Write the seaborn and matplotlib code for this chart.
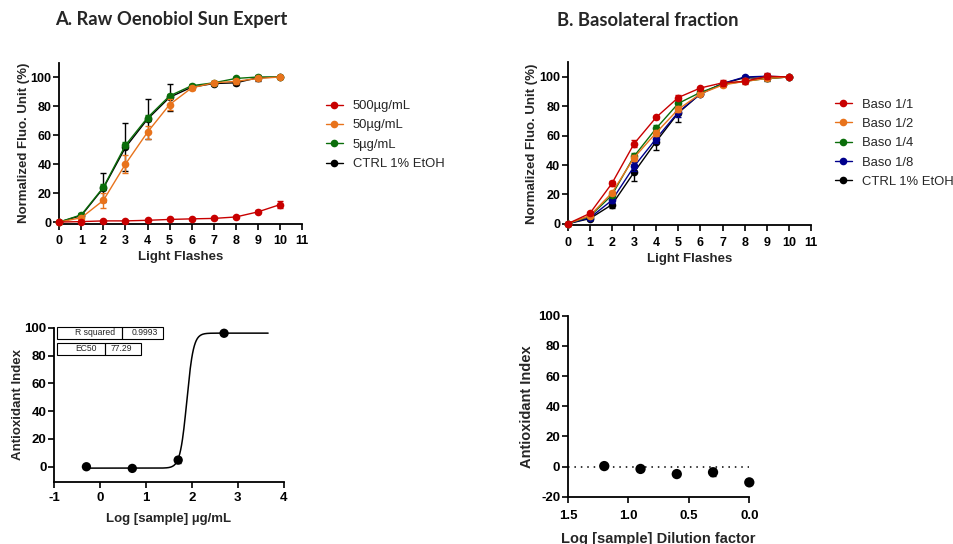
import numpy as np
import pandas as pd
import matplotlib
matplotlib.use("Agg")
import matplotlib.pyplot as plt
from matplotlib.patches import Rectangle
import seaborn as sns

# ---------------- data ----------------
flashes = list(range(11))

# Panel A (raw extract)
a_labels = ["500µg/mL", "50µg/mL", "5µg/mL", "CTRL 1% EtOH"]
a_500 = [0, 0.3, 0.8, 0.8, 1.2, 1.8, 2.2, 2.5, 3.5, 7, 12]
a_500_err = [0, 0.3, 0.3, 0.3, 0.3, 0.4, 0.5, 0.5, 0.8, 1, 2.5]
a_50 = [0, 3, 15, 40, 62, 81, 92.5, 96, 97, 99, 100]
a_50_err = [0, 1, 5, 6, 4.5, 4, 1.5, 1, 1.5, 1, 0]
a_5 = [0, 5, 24, 53, 72, 87, 94, 96, 99, 100, 100]
a_5_err = [0, 1, 2, 2, 2, 1.5, 1, 1, 1, 1, 0]
a_ctrl = [0, 4.5, 23.5, 51.5, 71, 86, 93, 95.5, 96, 99.5, 100]
a_ctrl_err = [0, 1, 10, 16.5, 14, 9.5, 1.5, 1, 1.5, 2, 0]

# Panel B (basolateral fraction)
b_labels = ["Baso 1/1", "Baso 1/2", "Baso 1/4", "Baso 1/8", "CTRL 1% EtOH"]
b_11 = [0, 7, 27.5, 54.5, 72.5, 86, 92.5, 96, 97, 100.5, 100]
b_11_err = [0, 1, 1.5, 2.5, 1, 1.5, 1, 2, 2, 2, 0]
b_12 = [0, 5.5, 21, 45, 62, 78, 88.5, 94.5, 97, 99, 100]
b_12_err = [0, 1, 1.5, 2, 2, 2, 1, 1, 1, 1, 0]
b_14 = [0, 5, 19.5, 46, 65, 82, 89.5, 95, 97, 99, 100]
b_14_err = [0, 1, 1.5, 2, 2, 2, 1, 1, 1, 1, 0]
b_18 = [0, 4, 16, 39, 58, 76, 88.5, 95.5, 100, 100.5, 100]
b_18_err = [0, 1, 2, 3, 3, 3, 1, 1, 1, 1.5, 0]
b_ctrl = [0, 3.5, 13, 35, 56, 75.5, 88.5, 95.5, 99.5, 99, 100]
b_ctrl_err = [0, 1, 2.5, 6, 6, 6.5, 1, 1, 1, 2, 0]

# Antioxidant index, raw extract
ai_a_logx = [-0.3, 0.7, 1.7, 2.7]
ai_a_y = [0, -1.2, 4.8, 96.2]
ai_a_err = [0, 0, 2, 0]
fit_bottom, fit_top, fit_ec50, fit_hill = -1.0, 96.3, 77.29, 6.0
fit_range = (-0.3, 3.66)
r_squared = "0.9993"
ec50_text = "77.29"

# Antioxidant index, basolateral
ai_b_logx = [1.2, 0.9, 0.6, 0.3, 0.0]
ai_b_y = [0.3, -1.6, -5.0, -3.8, -10.5]
ai_b_err = [0, 0, 0, 2.5, 0]

RED, ORANGE, GREEN, BLUE, BLACK = "#C80000", "#E8731C", "#0B6E0B", "#00008C", "#000000"

# ---------------- figure ----------------
sns.set_theme(style="ticks")
plt.rcParams["font.family"] = ["Liberation Sans", "DejaVu Sans"]
plt.rcParams["axes.unicode_minus"] = False
W, H = 954, 544
fig = plt.figure(figsize=(W / 100, H / 100), dpi=100)


def px_axes(x0, x1, ytop, ybot):
    return fig.add_axes([x0 / W, 1 - ybot / H, (x1 - x0) / W, (ybot - ytop) / H])


def style(ax, tick_fs, label_fs, xpad=4, ypad=1):
    sns.despine(ax=ax)
    for s in ("left", "bottom"):
        ax.spines[s].set_linewidth(1.3)
        ax.spines[s].set_color("black")
    ax.tick_params(direction="out", length=4.5, width=1.2, colors="black",
                   labelsize=tick_fs)
    ax.tick_params(axis="x", pad=xpad)
    ax.tick_params(axis="y", pad=ypad)
    for t in ax.get_xticklabels() + ax.get_yticklabels():
        t.set_fontweight("bold")
    ax.xaxis.label.set_fontsize(label_fs)
    ax.yaxis.label.set_fontsize(label_fs)
    ax.xaxis.label.set_fontweight("bold")
    ax.yaxis.label.set_fontweight("bold")
    ax.set_facecolor("none")


def kinetic(ax, series, order_labels):
    for i, (lab, vals, errs, col) in enumerate(reversed(series)):
        z = 3 + i
        ax.errorbar(flashes, vals, yerr=errs, fmt="none", ecolor=col,
                    elinewidth=1, capsize=2.2, capthick=1, zorder=z, clip_on=False)
        df = pd.DataFrame({"x": flashes, "y": vals})
        sns.lineplot(data=df, x="x", y="y", ax=ax, color=col, marker="o",
                     markersize=5.5, markeredgewidth=0, linewidth=1,
                     label=lab, zorder=z + 0.5, clip_on=False)
    ax.set_xlim(0, 11)
    ax.set_ylim(-1, 110)
    ax.set_xticks(range(12))
    ax.set_yticks(range(0, 101, 20))
    ax.set_xlabel("Light Flashes", labelpad=3)
    ax.set_ylabel("Normalized Fluo. Unit (%)", labelpad=0.5)
    handles, labels = ax.get_legend_handles_labels()
    hmap = dict(zip(labels, handles))
    return [hmap[l] for l in order_labels]


# ---- Panel A top ----
axA = px_axes(59.3, 302, 62.5, 223.5)
hA = kinetic(axA, [(a_labels[0], a_500, a_500_err, RED),
                   (a_labels[1], a_50, a_50_err, ORANGE),
                   (a_labels[2], a_5, a_5_err, GREEN),
                   (a_labels[3], a_ctrl, a_ctrl_err, BLACK)], a_labels)
style(axA, 9, 9.5)
axA.legend(hA, a_labels, loc="upper left", bbox_to_anchor=(326 / W, 1 - 100 / H),
           bbox_transform=fig.transFigure, frameon=False, fontsize=9.4,
           handlelength=1.3, handletextpad=0.75, labelspacing=0.55,
           borderpad=0, borderaxespad=0)

# ---- Panel B top ----
axB = px_axes(567.7, 811, 62.3, 225.2)
hB = kinetic(axB, [(b_labels[0], b_11, b_11_err, RED),
                   (b_labels[1], b_12, b_12_err, ORANGE),
                   (b_labels[2], b_14, b_14_err, GREEN),
                   (b_labels[3], b_18, b_18_err, BLUE),
                   (b_labels[4], b_ctrl, b_ctrl_err, BLACK)], b_labels)
style(axB, 9, 9.5)
axB.legend(hB, b_labels, loc="upper left", bbox_to_anchor=(835 / W, 1 - 98.5 / H),
           bbox_transform=fig.transFigure, frameon=False, fontsize=9.4,
           handlelength=1.3, handletextpad=0.75, labelspacing=0.55,
           borderpad=0, borderaxespad=0)

# ---- Panel A bottom ----
axC = px_axes(54.3, 283.7, 328, 482)
xf = np.linspace(fit_range[0], fit_range[1], 400)
yf = fit_bottom + (fit_top - fit_bottom) / (1 + 10 ** ((np.log10(fit_ec50) - xf) * fit_hill))
sns.lineplot(x=xf, y=yf, ax=axC, color="black", linewidth=1.1, zorder=2)
axC.errorbar(ai_a_logx, ai_a_y, yerr=ai_a_err, fmt="none", ecolor="black",
             elinewidth=1, capsize=2.5, zorder=3)
sns.scatterplot(x=ai_a_logx, y=ai_a_y, ax=axC, color="black", s=45,
                edgecolor="none", zorder=4, clip_on=False)
axC.set_xlim(-1, 4)
axC.set_ylim(-11, 100)
axC.set_xticks(range(-1, 5))
axC.set_yticks(range(0, 101, 20))
axC.set_xlabel("Log [sample] µg/mL", labelpad=6)
axC.set_ylabel("Antioxidant Index", labelpad=0.5)
style(axC, 9.5, 9.5, xpad=3, ypad=1)

# results table
def cell_box(x0, x1, y0, y1):
    fig.patches.append(Rectangle((x0 / W, 1 - y1 / H), (x1 - x0) / W, (y1 - y0) / H,
                                 transform=fig.transFigure, fill=False,
                                 edgecolor="black", linewidth=0.8))

cell_box(56.7, 122.3, 327.3, 338.7)
cell_box(122.3, 163.3, 327.3, 338.7)
cell_box(56.7, 105, 343.3, 355)
cell_box(105, 140.7, 343.3, 355)
fig.text(95 / W, 1 - 332.5 / H, "R squared", fontsize=6.2, ha="center", va="center")
fig.text(144.5 / W, 1 - 332.5 / H, r_squared, fontsize=6.2, ha="center", va="center")
fig.text(86.5 / W, 1 - 348.5 / H, "EC50", fontsize=6.2, ha="center", va="center")
fig.text(121 / W, 1 - 348.5 / H, ec50_text, fontsize=6.2, ha="center", va="center")

# ---- Panel B bottom ----
axD = px_axes(568, 749.3, 315.7, 496.7)
axD.axhline(0, color="black", linewidth=1.1, linestyle=(0, (1, 3.2)), zorder=1)
axD.errorbar(ai_b_logx, ai_b_y, yerr=ai_b_err, fmt="none", ecolor="black",
             elinewidth=1, capsize=2.5, zorder=3)
sns.scatterplot(x=ai_b_logx, y=ai_b_y, ax=axD, color="black", s=55,
                edgecolor="none", zorder=4, clip_on=False)
axD.set_xlim(1.5, 0.0)
axD.set_ylim(-20, 100)
axD.set_xticks([1.5, 1.0, 0.5, 0.0])
axD.set_xticklabels(["1.5", "1.0", "0.5", "0.0"])
axD.set_yticks(range(-20, 101, 20))
axD.set_xlabel("Log [sample] Dilution factor", labelpad=7)
axD.set_ylabel("Antioxidant Index", labelpad=3)
style(axD, 9.5, 10.5, xpad=5, ypad=1)

# ---- titles ----
fig.text(55 / W, 1 - 20 / H, "A. Raw Oenobiol Sun Expert", fontsize=13.2,
         fontweight="bold", family=["Lato", "DejaVu Sans"], ha="left", va="center")
fig.text(557 / W, 1 - 20 / H, "B. Basolateral fraction", fontsize=13.2,
         fontweight="bold", family=["Lato", "DejaVu Sans"], ha="left", va="center")

fig.savefig("out.png", dpi=100, facecolor="white")
